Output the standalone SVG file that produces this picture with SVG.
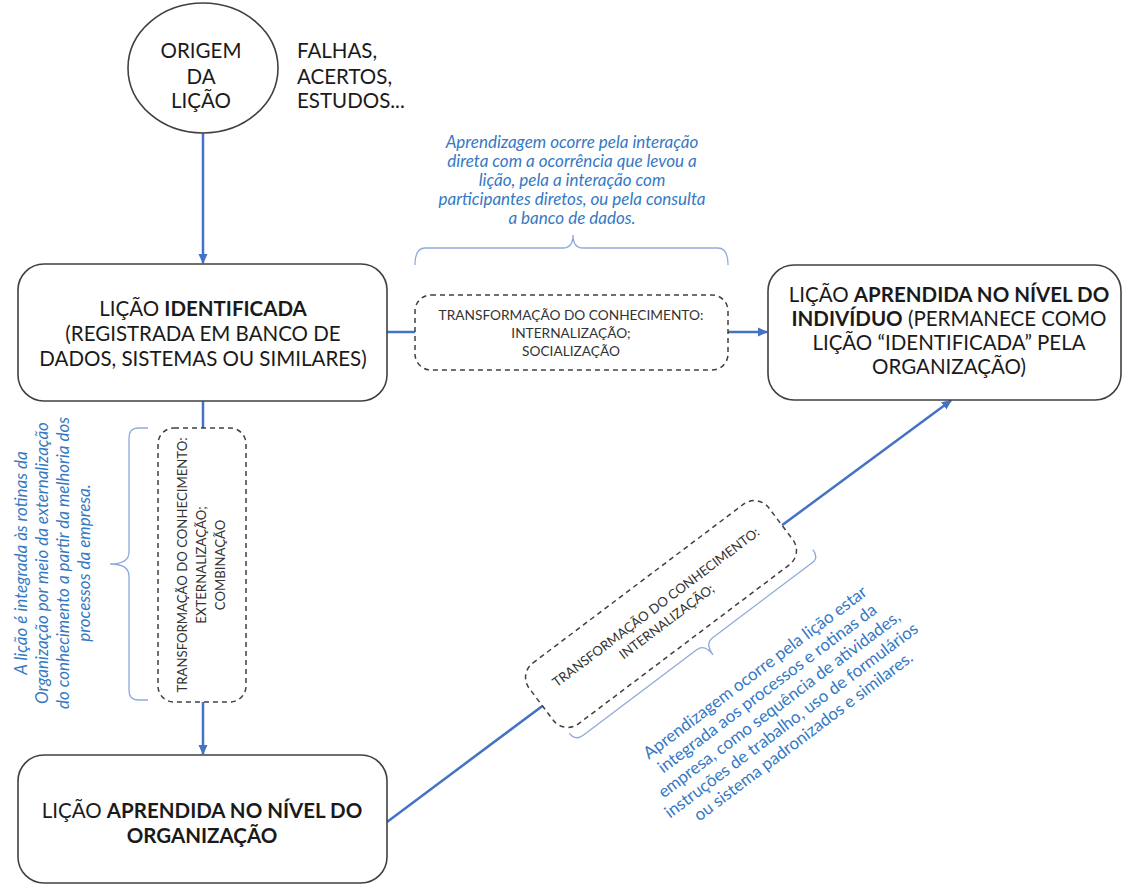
<svg xmlns="http://www.w3.org/2000/svg" width="1125" height="885" viewBox="0 0 1125 885">
  <defs>
    <style>
      .node { fill: #ffffff; stroke: #404040; stroke-width: 1.6; }
      .dash { fill: #ffffff; stroke: #404040; stroke-width: 1.5; stroke-dasharray: 5 4; }
      .lbl { font-family: Lato, "Open Sans", sans-serif; font-size: 20.5px; fill: #1a1a1a; text-anchor: middle; }
      .start { text-anchor: start; }
      .bold { font-weight: 700; }
      .small { font-family: Lato, "Open Sans", sans-serif; font-size: 13.7px; fill: #333333; text-anchor: middle; }
      .small.tilt { font-size: 13.2px; }
      .note { font-family: Lato, "Open Sans", sans-serif; font-size: 17px; fill: #3479c4; text-anchor: middle; }
      .it { font-style: italic; }
      .brace { fill: none; stroke: #8eaadb; stroke-width: 1.3; }
      .edge { fill: none; stroke: #4472c4; stroke-width: 2.5; }
    </style>
    <marker id="arrow" viewBox="0 0 10 10" refX="9" refY="5" markerWidth="10" markerHeight="10" markerUnits="userSpaceOnUse" orient="auto">
      <path d="M0,0.5 L10,5 L0,9.5 z" fill="#4472c4"/>
    </marker>
  </defs>

  <rect width="1125" height="885" fill="#ffffff"/>

  <!-- connectors -->
  <g id="connectors">
    <line class="edge" x1="203" y1="133" x2="203" y2="263" marker-end="url(#arrow)"/>
    <line class="edge" x1="387" y1="332" x2="415" y2="332"/>
    <line class="edge" x1="728" y1="332" x2="767" y2="332" marker-end="url(#arrow)"/>
    <line class="edge" x1="203" y1="401" x2="203" y2="428"/>
    <line class="edge" x1="203" y1="702" x2="203" y2="754" marker-end="url(#arrow)"/>
    <line class="edge" x1="387" y1="822" x2="542.4" y2="705.9"/>
    <line class="edge" x1="782" y1="525.3" x2="951" y2="400.5" marker-end="url(#arrow)"/>
  </g>

  <!-- origin of the lesson -->
  <g id="origem">
    <ellipse class="node" cx="203" cy="68" rx="75" ry="65"/>
    <text class="lbl" x="201" y="58">ORIGEM</text>
    <text class="lbl" x="201" y="84">DA</text>
    <text class="lbl" x="201" y="108">LIÇÃO</text>
  </g>

  <g id="fontes">
    <text class="lbl start" x="297" y="58">FALHAS,</text>
    <text class="lbl start" x="297" y="84">ACERTOS,</text>
    <text class="lbl start" x="297" y="108">ESTUDOS...</text>
  </g>

  <!-- identified lesson -->
  <g id="identificada">
    <rect class="node" x="18" y="264" width="369" height="137" rx="26"/>
    <text class="lbl" x="203" y="316">LIÇÃO <tspan class="bold">IDENTIFICADA</tspan></text>
    <text class="lbl" x="203" y="341">(REGISTRADA EM BANCO DE</text>
    <text class="lbl" x="203" y="366">DADOS, SISTEMAS OU SIMILARES)</text>
  </g>

  <!-- individual level -->
  <g id="individuo">
    <rect class="node" x="768" y="265" width="353" height="135" rx="26"/>
    <text class="lbl" x="949" y="302">LIÇÃO <tspan class="bold">APRENDIDA NO NÍVEL DO</tspan></text>
    <text class="lbl" x="949" y="326"><tspan class="bold">INDIVÍDUO</tspan> (PERMANECE COMO</text>
    <text class="lbl" x="949" y="350">LIÇÃO “IDENTIFICADA” PELA</text>
    <text class="lbl" x="949" y="374">ORGANIZAÇÃO)</text>
  </g>

  <!-- organization level -->
  <g id="organizacao">
    <rect class="node" x="18" y="755" width="369" height="128" rx="26"/>
    <text class="lbl" x="202" y="818">LIÇÃO <tspan class="bold">APRENDIDA NO NÍVEL DO</tspan></text>
    <text class="lbl bold" x="202" y="843">ORGANIZAÇÃO</text>
  </g>

  <!-- transformation: internalization / socialization -->
  <g id="transf-socializacao">
    <rect class="dash" x="415" y="295" width="313" height="75" rx="16"/>
    <text class="small" x="571" y="320">TRANSFORMAÇÃO DO CONHECIMENTO:</text>
    <text class="small" x="571" y="338">INTERNALIZAÇÃO;</text>
    <text class="small" x="571" y="356">SOCIALIZAÇÃO</text>
  </g>

  <g id="nota-individuo">
    <path class="brace" d="M415,265 Q415,248 425,248 L563,248 Q573,248 573,235 Q573,248 583,248 L718,248 Q728,248 728,265"/>
    <text class="note it" x="572" y="148">Aprendizagem ocorre pela interação</text>
    <text class="note it" x="572" y="167">direta com a ocorrência que levou a</text>
    <text class="note it" x="572" y="186">lição, pela a interação com</text>
    <text class="note it" x="572" y="205">participantes diretos, ou pela consulta</text>
    <text class="note it" x="572" y="224">a banco de dados.</text>
  </g>

  <!-- transformation: externalization / combination -->
  <g id="transf-combinacao">
    <rect class="dash" x="158" y="428" width="88" height="274" rx="16"/>
    <g transform="translate(0,565) rotate(-90)">
      <text class="small tilt" x="0" y="187">TRANSFORMAÇÃO DO CONHECIMENTO:</text>
      <text class="small tilt" x="0" y="206">EXTERNALIZAÇÃO;</text>
      <text class="small tilt" x="0" y="225">COMBINAÇÃO</text>
    </g>
  </g>

  <g id="nota-organizacao">
    <path class="brace" d="M148,428 L138,428 Q129,428 129,438 L129,552 Q129,564 110,564 Q129,564 129,576 L129,690 Q129,700 138,700 L148,700"/>
    <g transform="translate(0,563) rotate(-90)">
      <text class="note it" x="0" y="27">A lição é integrada às rotinas da</text>
      <text class="note it" x="0" y="48">Organização por meio da externalização</text>
      <text class="note it" x="0" y="69">do conhecimento a partir da melhoria dos</text>
      <text class="note it" x="0" y="90">processos da empresa.</text>
    </g>
  </g>

  <!-- transformation: internalization (organization to individual) -->
  <g id="transf-internalizacao" transform="translate(661,614) rotate(-37)">
    <rect class="dash" x="-150" y="-38" width="300" height="76" rx="18"/>
    <text class="small tilt" x="0" y="-4">TRANSFORMAÇÃO DO CONHECIMENTO:</text>
    <text class="small tilt" x="0" y="14">INTERNALIZAÇÃO;</text>
  </g>

  <g id="nota-internalizacao" transform="translate(661,614) rotate(-37)">
    <path class="brace" d="M-145,40 Q-145,50 -135,50 L7,50 Q17,50 17,64 Q17,50 27,50 L152,50 Q160,50 160,40"/>
    <text class="note" x="40" y="109">Aprendizagem ocorre pela lição estar</text>
    <text class="note" x="40" y="129">integrada aos processos e rotinas da</text>
    <text class="note" x="40" y="149">empresa, como sequência de atividades,</text>
    <text class="note" x="40" y="169">instruções de trabalho, uso de formulários</text>
    <text class="note" x="40" y="189">ou sistema padronizados e similares.</text>
  </g>
</svg>
